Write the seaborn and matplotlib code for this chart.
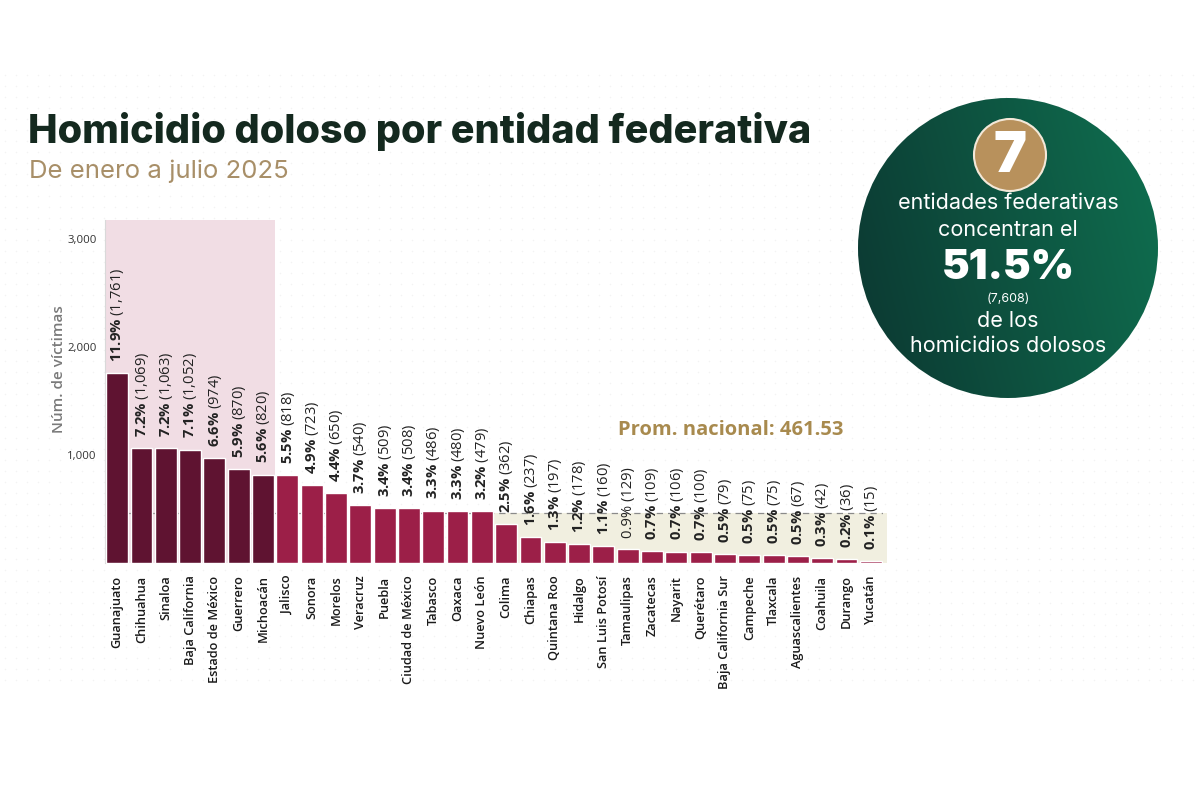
import numpy as np
import pandas as pd
import matplotlib
matplotlib.use("Agg")
import matplotlib.pyplot as plt
from matplotlib.patches import Circle, Rectangle
import seaborn as sns

# ---------------- data ----------------
estados = ["Guanajuato", "Chihuahua", "Sinaloa", "Baja California", "Estado de México",
           "Guerrero", "Michoacán", "Jalisco", "Sonora", "Morelos", "Veracruz", "Puebla",
           "Ciudad de México", "Tabasco", "Oaxaca", "Nuevo León", "Colima", "Chiapas",
           "Quintana Roo", "Hidalgo", "San Luis Potosí", "Tamaulipas", "Zacatecas",
           "Nayarit", "Querétaro", "Baja California Sur", "Campeche", "Tlaxcala",
           "Aguascalientes", "Coahuila", "Durango", "Yucatán"]
victimas = [1761, 1069, 1063, 1052, 974, 870, 820, 818, 723, 650, 540, 509, 508, 486,
            480, 479, 362, 237, 197, 178, 160, 129, 109, 106, 100, 79, 75, 75, 67, 42, 36, 15]
porcentajes = ["11.9%", "7.2%", "7.2%", "7.1%", "6.6%", "5.9%", "5.6%", "5.5%", "4.9%",
               "4.4%", "3.7%", "3.4%", "3.4%", "3.3%", "3.3%", "3.2%", "2.5%", "1.6%",
               "1.3%", "1.2%", "1.1%", "0.9%", "0.7%", "0.7%", "0.7%", "0.5%", "0.5%",
               "0.5%", "0.5%", "0.3%", "0.2%", "0.1%"]
pct_negrita = [p not in ("0.9%",) for p in porcentajes]
grupo = ["top"] * 7 + ["resto"] * 25
promedio = 461.53
yticks = [1000, 2000, 3000]

df = pd.DataFrame({"estado": estados, "victimas": victimas, "grupo": grupo})

# ---------------- style ----------------
sns.set_theme(style="white")
plt.rcParams["font.family"] = ["Open Sans", "DejaVu Sans"]
plt.rcParams["mathtext.fontset"] = "custom"
plt.rcParams["mathtext.rm"] = "Open Sans"
plt.rcParams["mathtext.bf"] = "Open Sans:bold"

W, H = 1200, 800
fig = plt.figure(figsize=(12, 8), dpi=100)
fig.patch.set_facecolor("white")

# faint dotted background
bg = fig.add_axes([0, 0, 1, 1], zorder=-5)
bg.set_xlim(0, W); bg.set_ylim(H, 0); bg.axis("off")
gx, gy = np.meshgrid(np.arange(5, W, 11), np.arange(75, 690, 11))
bg.scatter(gx.ravel(), gy.ravel(), s=1.2, color="#f3f3f3", linewidths=0)

# ---------------- main chart ----------------
def px(x, y):
    return x / W, 1 - y / H

ax_left, ax_right, ax_top, ax_bot = 105, 883, 220, 563
ax = fig.add_axes([ax_left / W, 1 - ax_bot / H, (ax_right - ax_left) / W, (ax_bot - ax_top) / H])
ax.set_facecolor("none")

n = len(estados)
ax.set_xlim(-0.5, n - 0.5)
ax.set_ylim(0, 3180)

# highlight areas
ax.add_patch(Rectangle((-0.5, 0), 7, 3180, color="#f1dde4", zorder=0, lw=0))
ax.add_patch(Rectangle((15.5, 0), n - 15.5 - 0.5 + 0.15, promedio, color="#f1efe0", zorder=0, lw=0, clip_on=False))
ax.axhline(promedio, color="#8a8a8a", lw=0.9, ls=(0, (5, 4)), zorder=1)

sns.barplot(data=df, x="estado", y="victimas", hue="grupo",
            palette={"top": "#5f1331", "resto": "#9c1f48"}, dodge=False,
            width=0.9, legend=False, ax=ax, zorder=3, saturation=1)

for i, (v, p, b) in enumerate(zip(victimas, porcentajes, pct_negrita)):
    pp = p.replace("%", r"\%")
    lab = (r"$\mathbf{" + pp + "}$" if b else p) + f" ({v:,})"
    ax.annotate(lab, (i, v), xytext=(0.5, 8), textcoords="offset points",
                rotation=90, ha="center", va="bottom", fontsize=10.6, color="#222222",
                zorder=5)

ax.set_yticks(yticks)
ax.set_yticklabels([f"{t:,}" for t in yticks], fontsize=8.2, color="#333333")
ax.tick_params(axis="y", length=0, pad=6)
ax.tick_params(axis="x", length=0, pad=9)
ax.set_xticks(range(n))
ax.set_xticklabels(estados, rotation=90, fontsize=9.2, fontweight="semibold", color="#1a1a1a")
ax.set_xlabel("")
ax.set_ylabel("Núm. de víctimas", fontsize=11, color="#7a7a7a", fontweight="semibold")
ax.yaxis.set_label_coords(-0.05, 0.565)
for s in ["top", "right", "bottom"]:
    ax.spines[s].set_visible(False)
ax.spines["left"].set_color("#d9d9d9")
ax.spines["left"].set_linewidth(0.8)

fig.text(*px(618, 430), "Prom. nacional: 461.53", fontsize=14.5, fontweight="bold",
         color="#a88a4e", va="center", ha="left")

# ---------------- titles ----------------
fam = ["Inter", "DejaVu Sans"]
fig.text(*px(28, 143), "Homicidio doloso por entidad federativa", family=fam,
         fontsize=28.5, fontweight=800, color="#14291f", va="baseline", ha="left")
fig.text(*px(29, 178), "De enero a julio 2025", family=fam,
         fontsize=18.5, color="#a88f68", va="baseline", ha="left")

# ---------------- circle overlay ----------------
ov = fig.add_axes([0, 0, 1, 1], zorder=10)
ov.set_xlim(0, W); ov.set_ylim(H, 0); ov.axis("off")
cx, cy, r = 1008, 248, 150
grad = np.linspace(0, 1, 256)
gx2, gy2 = np.meshgrid(grad, grad)
t = np.clip(0.8 * gx2 + 0.2 * (1 - gy2), 0, 1)
c0 = np.array([0x0c, 0x37, 0x31]) / 255
c1 = np.array([0x0f, 0x70, 0x50]) / 255
img = c0[None, None, :] * (1 - t[..., None]) + c1[None, None, :] * t[..., None]
im = ov.imshow(img, extent=(cx - r, cx + r, cy + r, cy - r), origin="upper", zorder=1, aspect="auto")
clip = Circle((cx, cy), r, transform=ov.transData, facecolor="none", edgecolor="none")
ov.add_patch(clip)
im.set_clip_path(clip)

ov.add_patch(Circle((1010, 155), 36, facecolor="#b8915c", edgecolor="#f3e8d8", lw=1.5, zorder=2))
ov.text(1010, 157, "7", color="white", fontsize=40, fontweight=900, family=fam,
        ha="center", va="center", zorder=3)
ov.text(1008, 203, "entidades federativas", color="white", fontsize=15.5, family=fam,
        ha="center", va="center", zorder=3)
ov.text(1008, 230, "concentran el", color="white", fontsize=15.5, family=fam,
        ha="center", va="center", zorder=3)
ov.text(1008, 268, "51.5%", color="white", fontsize=30, fontweight=900, family=fam,
        ha="center", va="center", zorder=3)
ov.text(1008, 299, "(7,608)", color="white", fontsize=9, family=fam,
        ha="center", va="center", zorder=3)
ov.text(1008, 321, "de los", color="white", fontsize=15.5, family=fam,
        ha="center", va="center", zorder=3)
ov.text(1008, 346, "homicidios dolosos", color="white", fontsize=15.5, family=fam,
        ha="center", va="center", zorder=3)

fig.savefig("out.png", dpi=100, facecolor="white")
